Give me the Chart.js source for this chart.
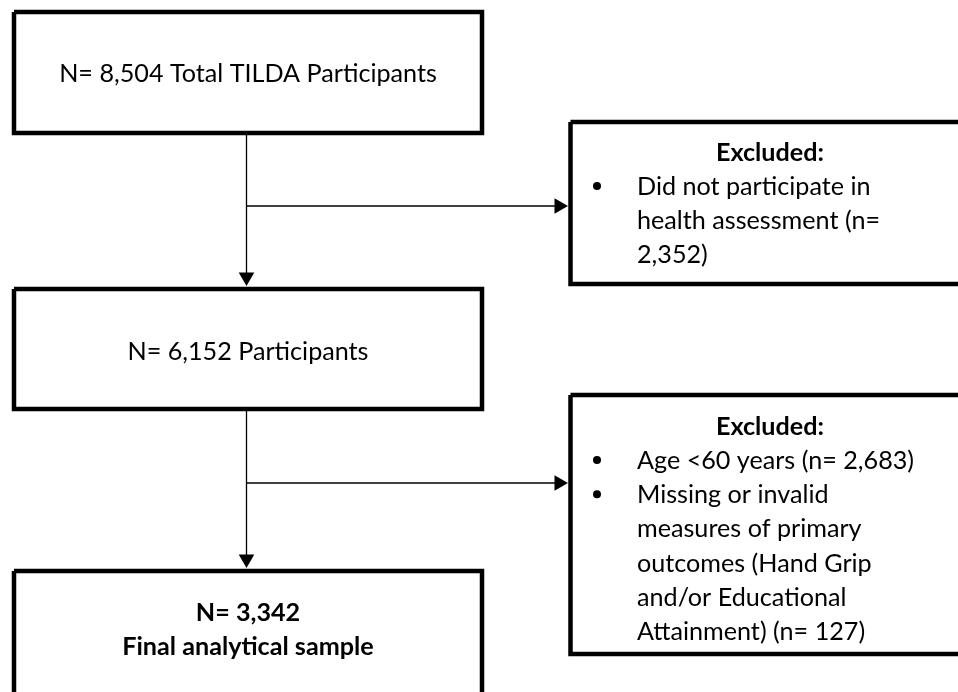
<!DOCTYPE html>
<html>
<head>
<meta charset="utf-8">
<script src="https://cdn.jsdelivr.net/npm/chart.js@4.4.1/dist/chart.umd.min.js"></script>
<style>
  html, body { margin: 0; padding: 0; background: #fff; }
  canvas { display: block; }
</style>
</head>
<body>
<canvas id="flowChart" width="958" height="692"></canvas>
<script>
// Поток участников TILDA
const stageCounts = [8504, 6152, 3342];
const stageLabels = ['Total TILDA Participants', 'Participants', 'Final analytical sample'];
const excludedTitle = 'Excluded:';
// \n — перенос строки как в оригинале, {n} — число исключённых
const excludedReasons = [
  ['Did not participate in\nhealth assessment (n=\n{n})'],
  ['Age <60 years (n= {n})', 'Missing or invalid\nmeasures of primary\noutcomes (Hand Grip\nand/or Educational\nAttainment) (n= {n})']
];
const excludedCounts = [[2352], [2683, 127]];

// расположение блоков (в единицах осей)
const stageBoxes = [
  { x0: 14, y0: 12, x1: 482, y1: 133, base: [82] },
  { x0: 14, y0: 289, x1: 482, y1: 409, base: [360] },
  { x0: 14, y0: 571, x1: 482, y1: 710, base: [621, 655] }
];
const excludedBoxes = [
  { x0: 570.5, y0: 122, x1: 970, y1: 284, head: 161, first: 195 },
  { x0: 570.5, y0: 395, x1: 970, y1: 654, head: 435, first: 469 }
];
const arrowX = 246.5;
const sideArrowY = [206, 483];
const sideArrowEnd = 568;
const lineStep = 34.2;
const textLeft = 637;
const bulletX = 597;
const headCenter = 770;

const fmt = n => n.toLocaleString('en-US');
const FONT = 'Lato, "Open Sans", sans-serif';

// подбираем размер шрифта под ширину исходного текста
const probe = document.createElement('canvas').getContext('2d');
probe.font = '100px ' + FONT;
const fontSize = 100 * 378 / probe.measureText('N= ' + fmt(stageCounts[0]) + ' ' + stageLabels[0]).width;

function boxData(b) {
  return [
    { x: b.x0, y: b.y0 }, { x: b.x1, y: b.y0 }, { x: b.x1, y: b.y1 },
    { x: b.x0, y: b.y1 }, { x: b.x0, y: b.y0 }
  ];
}

const datasets = [];
stageBoxes.concat(excludedBoxes).forEach(b => {
  datasets.push({
    data: boxData(b),
    showLine: true,
    borderColor: '#000',
    borderWidth: 4.5,
    pointRadius: 0,
    borderJoinStyle: 'miter',
    tension: 0
  });
});

function arrow(pts, rot) {
  return {
    data: pts,
    showLine: true,
    borderColor: '#000',
    borderWidth: 1.3,
    pointStyle: 'triangle',
    pointRadius: [0, 9],
    pointRotation: rot,
    pointBackgroundColor: '#000',
    pointBorderColor: '#000',
    pointBorderWidth: 0,
    tension: 0
  };
}
// вниз: от нижней границы блока к верхней следующего (остриё = центр + 9)
for (let i = 0; i < 2; i++) {
  const from = stageBoxes[i].y1;
  const to = stageBoxes[i + 1].y0 - 3 - 9;
  datasets.push(arrow([{ x: arrowX, y: from }, { x: arrowX, y: to }], 180));
  datasets.push(arrow([{ x: arrowX, y: sideArrowY[i] }, { x: sideArrowEnd - 9, y: sideArrowY[i] }], 90));
}

const textPlugin = {
  id: 'flowText',
  afterDatasetsDraw(chart) {
    const ctx = chart.ctx;
    const sx = chart.scales.x, sy = chart.scales.y;
    const px = v => sx.getPixelForValue(v);
    const py = v => sy.getPixelForValue(v);
    ctx.save();
    ctx.fillStyle = '#000';
    ctx.textBaseline = 'alphabetic';

    // основные блоки
    ctx.textAlign = 'center';
    stageBoxes.forEach((b, i) => {
      const cx = px((b.x0 + b.x1) / 2);
      if (i < 2) {
        ctx.font = fontSize + 'px ' + FONT;
        ctx.fillText('N= ' + fmt(stageCounts[i]) + ' ' + stageLabels[i], cx, py(b.base[0]));
      } else {
        ctx.font = 'bold ' + fontSize + 'px ' + FONT;
        ctx.fillText('N= ' + fmt(stageCounts[i]), cx, py(b.base[0]));
        ctx.fillText(stageLabels[i], cx, py(b.base[1]));
      }
    });

    // блоки исключений
    excludedBoxes.forEach((b, i) => {
      ctx.textAlign = 'center';
      ctx.font = 'bold ' + fontSize + 'px ' + FONT;
      ctx.fillText(excludedTitle, px(headCenter), py(b.head));
      ctx.font = fontSize + 'px ' + FONT;
      ctx.textAlign = 'left';
      let y = b.first;
      excludedReasons[i].forEach((r, k) => {
        const lines = r.replace('{n}', fmt(excludedCounts[i][k])).split('\n');
        ctx.beginPath();
        ctx.arc(px(bulletX), py(y - 9), 4, 0, Math.PI * 2);
        ctx.fill();
        lines.forEach(l => {
          ctx.fillText(l, px(textLeft), py(y));
          y += lineStep;
        });
      });
    });
    ctx.restore();
  }
};

new Chart(document.getElementById('flowChart').getContext('2d'), {
  type: 'scatter',
  data: { datasets: datasets },
  options: {
    responsive: false,
    animation: false,
    layout: { padding: 0, autoPadding: false },
    scales: {
      x: { type: 'linear', min: 0, max: 958, display: false },
      y: { type: 'linear', min: 0, max: 692, reverse: true, display: false }
    },
    plugins: {
      legend: { display: false },
      tooltip: { enabled: false }
    }
  },
  plugins: [textPlugin]
});
</script>
</body>
</html>
